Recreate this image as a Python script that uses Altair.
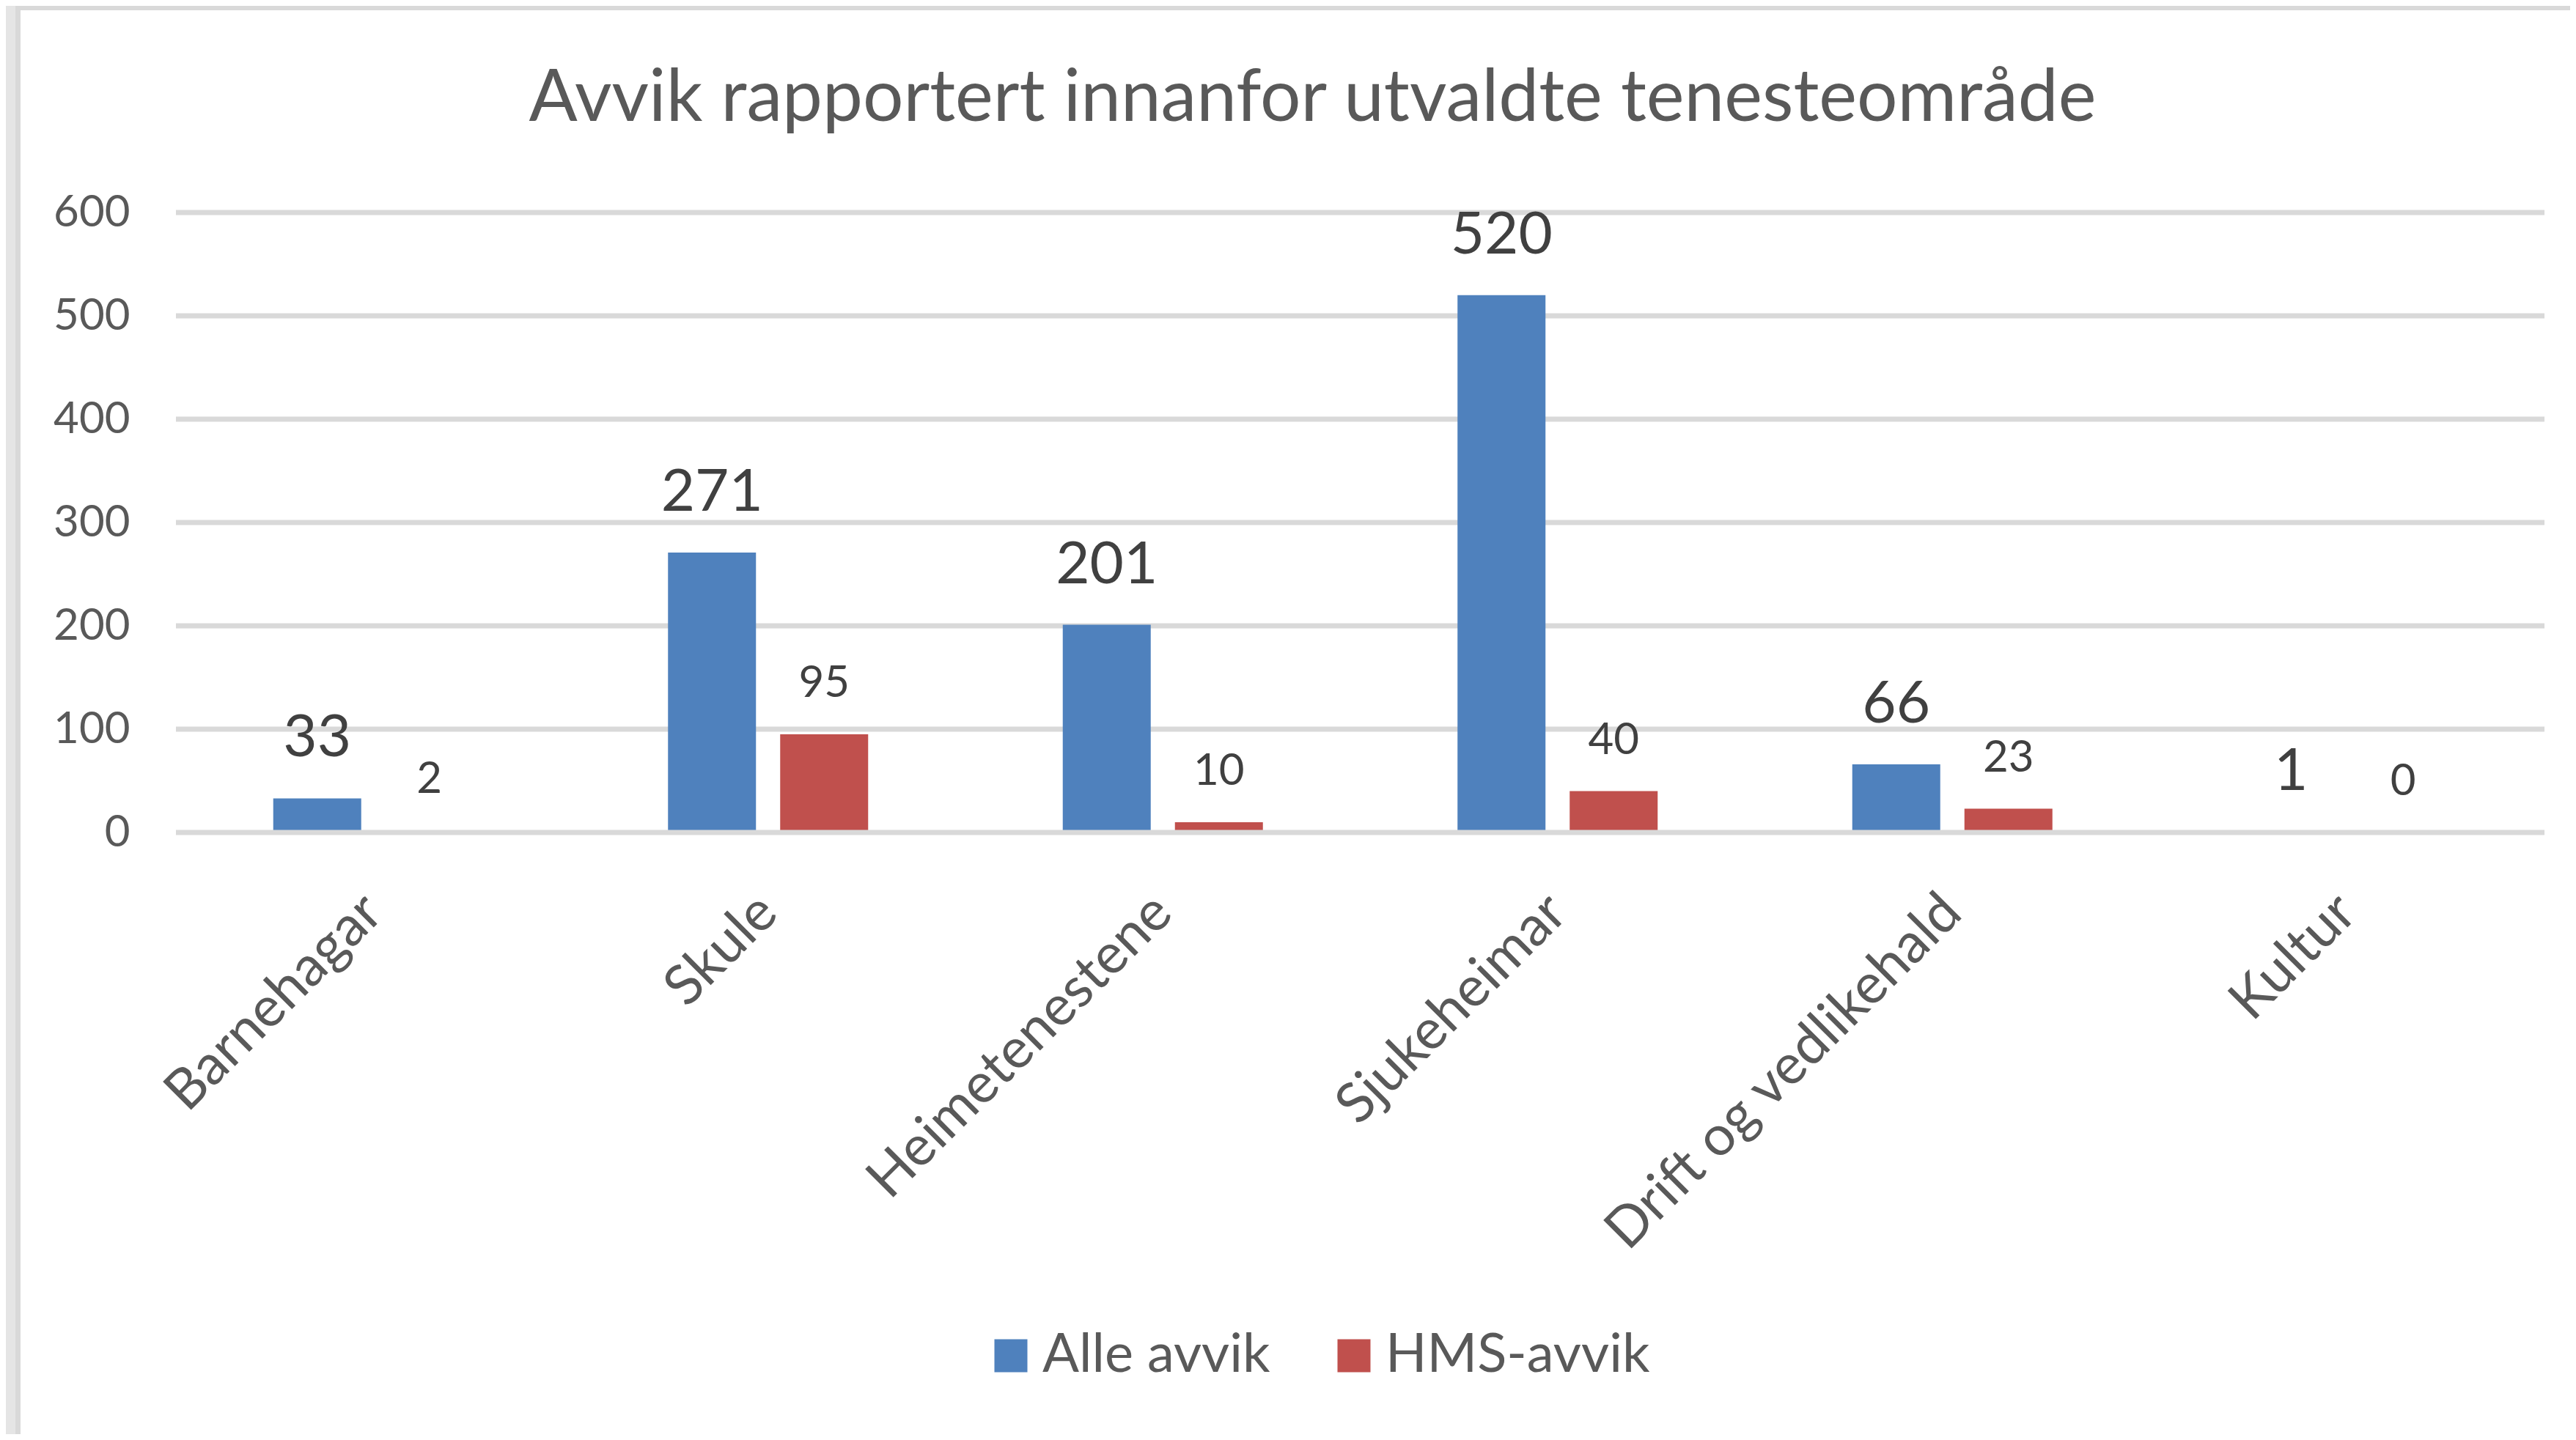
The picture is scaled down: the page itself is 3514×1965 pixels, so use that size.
import altair as alt
import pandas as pd

categories = ["Barnehagar", "Skule", "Heimetenestene", "Sjukeheimar", "Drift og vedlikehald", "Kultur"]
alle_avvik = [33, 271, 201, 520, 66, 1]
hms_avvik = [2, 95, 10, 40, 23, 0]
series = ["Alle avvik", "HMS-avvik"]
y_ticks = [0, 100, 200, 300, 400, 500, 600]

rows = []
for c, a, h in zip(categories, alle_avvik, hms_avvik):
    rows.append({"cat": c, "series": series[0], "value": a})
    rows.append({"cat": c, "series": series[1], "value": h})
df = pd.DataFrame(rows)
grid_df = pd.DataFrame({"tick": y_ticks})
frame_df = pd.DataFrame({"f": [0]})

W, H = 3231, 846
FONT = "Lato"
GREY_TXT = "#595959"
x_scale = alt.Scale(domain=categories, paddingInner=0.493, paddingOuter=0.2465)
xo_scale = alt.Scale(domain=series, paddingInner=0.2157, paddingOuter=0)
y_scale = alt.Scale(domain=[0, 600], nice=False)
color_scale = alt.Scale(domain=series, range=["#4f81bd", "#c0504d"])

y_axis = alt.Axis(values=y_ticks, title=None, grid=False, domain=False, ticks=False,
                  labelPadding=63, labelFont=FONT, labelFontSize=60, labelColor=GREY_TXT)
x_axis = alt.Axis(title=None, labelAngle=-45, labelAlign="right", labelBaseline="middle",
                  labelPadding=97, domain=False, ticks=False, grid=False,
                  labelFont=FONT, labelFontSize=76, labelColor=GREY_TXT, labelLimit=2000)

# window frame strips (decoration)
strip_left = alt.Chart(frame_df).mark_rect(fill="#e5e5e5").encode(
    x=alt.value(-232), x2=alt.value(-219), y=alt.value(-282), y2=alt.value(1667)
)
border_left = alt.Chart(frame_df).mark_rect(fill="#d9d9d9").encode(
    x=alt.value(-219), x2=alt.value(-212), y=alt.value(-282), y2=alt.value(1667)
)
border_top = alt.Chart(frame_df).mark_rect(fill="#d9d9d9").encode(
    x=alt.value(-219), x2=alt.value(3266), y=alt.value(-282), y2=alt.value(-276)
)

grid = alt.Chart(grid_df).transform_filter(alt.datum.tick > 0).mark_rule(
    color="#d9d9d9", strokeWidth=7
).encode(
    y=alt.Y("tick:Q", scale=y_scale, axis=y_axis),
    x=alt.value(0), x2=alt.value(W),
)

baseline = alt.Chart(grid_df).transform_filter(alt.datum.tick == 0).mark_rule(
    color="#d9d9d9", strokeWidth=7
).encode(
    y=alt.Y("tick:Q", scale=y_scale, axis=y_axis),
    x=alt.value(0), x2=alt.value(W),
)

bars = alt.Chart(df).mark_bar().encode(
    x=alt.X("cat:N", scale=x_scale, sort=categories, axis=x_axis),
    xOffset=alt.XOffset("series:N", scale=xo_scale, sort=series),
    y=alt.Y("value:Q", scale=y_scale, axis=y_axis),
    color=alt.Color("series:N", scale=color_scale, sort=series,
                    legend=alt.Legend(title=None, orient="none", legendX=1102, legendY=1523,
                                      direction="horizontal", symbolType="square",
                                      symbolSize=2025, symbolStrokeWidth=0, labelFont=FONT,
                                      labelFontSize=74, labelColor=GREY_TXT, labelOffset=6,
                                      columnPadding=77, padding=0, labelLimit=2000)),
)

lbl_a = alt.Chart(df).transform_filter(alt.datum.series == series[0]).mark_text(
    font=FONT, fontSize=80, color="#404040", baseline="alphabetic", dy=-57
).encode(
    x=alt.X("cat:N", scale=x_scale, sort=categories, axis=x_axis),
    xOffset=alt.XOffset("series:N", scale=xo_scale, sort=series),
    y=alt.Y("value:Q", scale=y_scale, axis=y_axis),
    text="value:Q",
)

lbl_h = alt.Chart(df).transform_filter(alt.datum.series == series[1]).mark_text(
    font=FONT, fontSize=60, color="#404040", baseline="alphabetic", dy=-51
).encode(
    x=alt.X("cat:N", scale=x_scale, sort=categories, axis=x_axis),
    xOffset=alt.XOffset("series:N", scale=xo_scale, sort=series),
    y=alt.Y("value:Q", scale=y_scale, axis=y_axis),
    text="value:Q",
)

chart = alt.layer(strip_left, border_left, border_top, grid, bars, baseline, lbl_a, lbl_h).properties(
    width=W, height=H,
    padding=0,
    background="white",
    title=alt.TitleParams(text="Avvik rapportert innanfor utvaldte tenesteområde", font=FONT,
                          fontSize=98, fontWeight="normal", color=GREY_TXT, anchor="middle",
                          frame="group", offset=-178, dx=-65),
).configure_view(stroke=None)

chart.save("out.html", embed_options={"renderer": "svg", "actions": False})
